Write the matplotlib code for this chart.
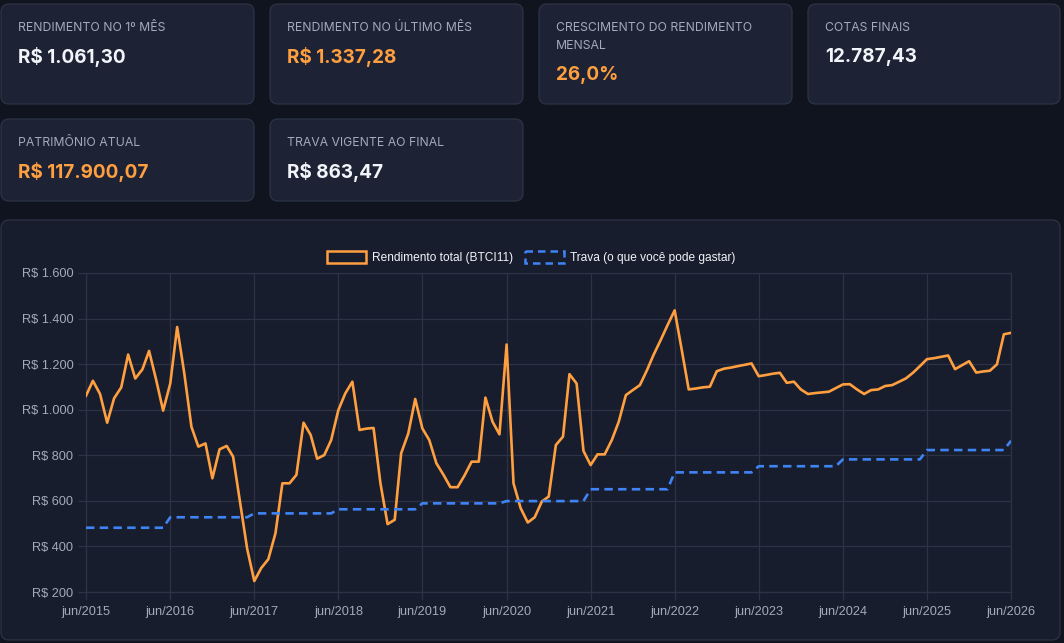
import matplotlib
matplotlib.use("Agg")

import matplotlib.pyplot as plt
import pandas as pd
from matplotlib.patches import FancyBboxPatch, Rectangle
from matplotlib.ticker import FuncFormatter

# ── Data ────────────────────────────────────────────────
START = "2015-06-01"

rendimento = [
    1061.30, 1127, 1069, 943, 1050, 1098, 1242, 1137, 1177, 1258, 1130, 996,
    1115, 1363, 1159, 925, 838, 852, 699, 826, 841, 794, 590, 390,
    248, 305, 344, 458, 677, 677, 714, 943, 889, 785, 801, 867,
    998, 1071, 1123, 911, 917, 920, 677, 498, 517, 809, 896, 1047,
    918, 867, 765, 714, 660, 660, 711, 772, 772, 1053, 947, 892,
    1286, 677, 568, 505, 528, 597, 619, 845, 882, 1156, 1115, 819,
    757, 804, 804, 867, 947, 1064, 1086, 1108, 1174, 1240, 1305, 1371,
    1436, 1267, 1089, 1093, 1098, 1101, 1169, 1180, 1185, 1191, 1197, 1203,
    1147, 1152, 1158, 1162, 1118, 1123, 1089, 1069, 1073, 1076, 1079, 1095,
    1111, 1112, 1089, 1069, 1086, 1089, 1104, 1108, 1123, 1137, 1162, 1191,
    1222, 1226, 1232, 1238, 1178, 1196, 1213, 1163, 1168, 1171, 1199, 1331,
    1337.28,
]

trava = [
    482, 482, 482, 482, 482, 482, 482, 482, 482, 482, 482, 482,
    528, 528, 528, 528, 528, 528, 528, 528, 528, 528, 528, 528,
    545, 545, 545, 545, 545, 545, 545, 545, 545, 545, 545, 545,
    563, 563, 563, 563, 563, 563, 563, 563, 563, 563, 563, 563,
    589, 589, 589, 589, 589, 589, 589, 589, 589, 589, 589, 589,
    599, 599, 599, 599, 599, 599, 599, 599, 599, 599, 599, 599,
    651, 651, 651, 651, 651, 651, 651, 651, 651, 651, 651, 651,
    725, 725, 725, 725, 725, 725, 725, 725, 725, 725, 725, 725,
    752, 752, 752, 752, 752, 752, 752, 752, 752, 752, 752, 752,
    782, 782, 782, 782, 782, 782, 782, 782, 782, 782, 782, 782,
    823, 823, 823, 823, 823, 823, 823, 823, 823, 823, 823, 823,
    863.47,
]

x_labels = ["jun/2015", "jun/2016", "jun/2017", "jun/2018", "jun/2019", "jun/2020",
            "jun/2021", "jun/2022", "jun/2023", "jun/2024", "jun/2025", "jun/2026"]
y_ticks = [200, 400, 600, 800, 1000, 1200, 1400, 1600]

card_labels = ["RENDIMENTO NO 1º MÊS", "RENDIMENTO NO ÚLTIMO MÊS",
               "CRESCIMENTO DO RENDIMENTO\nMENSAL", "COTAS FINAIS",
               "PATRIMÔNIO ATUAL", "TRAVA VIGENTE AO FINAL"]
card_values = ["R$ 1.061,30", "R$ 1.337,28", "26,0%", "12.787,43",
               "R$ 117.900,07", "R$ 863,47"]
card_highlight = [False, True, True, False, True, False]

# ── Style ───────────────────────────────────────────────
W, H = 1064, 643
BG = "#10141e"
PANEL = "#181d2d"
CARD = "#1d2335"
BORDER = "#2b3345"
GRID = "#2c3346"
ORANGE = "#ff9f40"
BLUE = "#3f84f5"
TEXT = "#f1f4f8"
MUTED = "#a3aab8"
CARD_FONT = ["Inter", "DejaVu Sans"]
CHART_FONT = ["Liberation Sans", "DejaVu Sans"]

fig = plt.figure(figsize=(W / 100, H / 100), dpi=100)
fig.patch.set_facecolor(BG)

# background layer in pixel coordinates
bg = fig.add_axes([0, 0, 1, 1], zorder=0)
bg.set_xlim(0, W)
bg.set_ylim(H, 0)
bg.axis("off")


def rounded_box(x0, y0, x1, y1, face, edge, r=8):
    box = FancyBboxPatch((x0 + r, y0 + r), (x1 - x0) - 2 * r, (y1 - y0) - 2 * r,
                         boxstyle=f"round,pad={r}", facecolor=face,
                         edgecolor=edge, linewidth=0.9)
    bg.add_patch(box)


# ── KPI cards ───────────────────────────────────────────
card_x = [(1, 254), (270, 523), (539, 792), (808, 1060)]
card_rows = [(4, 104), (119, 201)]

for i, (label, value) in enumerate(zip(card_labels, card_values)):
    row, col = divmod(i, 4)
    x0, x1 = card_x[col]
    y0, y1 = card_rows[row]
    rounded_box(x0, y0, x1, y1, CARD, BORDER)
    lines = label.split("\n")
    for k, line in enumerate(lines):
        bg.text(x0 + 17, y0 + 24 + 18 * k, line, fontsize=8.8, color=MUTED,
                family=CARD_FONT, va="center", ha="left")
    bg.text(x0 + 17, y0 + 53 + (len(lines) - 1) * 18, value, fontsize=13.6,
            fontweight="bold", color=ORANGE if card_highlight[i] else TEXT,
            family=CARD_FONT, va="center", ha="left")

# ── Chart panel ─────────────────────────────────────────
rounded_box(1, 220, 1060, 640, PANEL, BORDER)

# legend
bg.add_patch(Rectangle((326.5, 251), 39, 12, facecolor=PANEL, edgecolor=ORANGE, linewidth=1.8))
bg.text(372, 257.5, "Rendimento total (BTCI11)", fontsize=8.6, color=TEXT,
        family=CHART_FONT, va="center", ha="left")
bg.add_patch(Rectangle((524.5, 251), 39, 12, facecolor=PANEL, edgecolor=BLUE,
                       linewidth=1.8, linestyle=(0, (3, 2))))
bg.text(570, 257.5, "Trava (o que você pode gastar)", fontsize=8.6, color=TEXT,
        family=CHART_FONT, va="center", ha="left")

# ── Line chart ──────────────────────────────────────────
dates = pd.date_range(START, periods=len(rendimento), freq="MS")
ax = fig.add_axes([86 / W, 1 - 592 / H, 925 / W, 319 / H], zorder=1)
ax.set_facecolor("none")

ax.plot(dates, rendimento, color=ORANGE, linewidth=1.9, solid_joinstyle="round", zorder=3)
ax.plot(dates, trava, color=BLUE, linewidth=1.9, dashes=(3.2, 2.0), zorder=3)

ax.set_xlim(dates[0], dates[-1])
ax.set_ylim(200, 1600)
ax.set_yticks(y_ticks)
ax.yaxis.set_major_formatter(FuncFormatter(lambda v, _: f"R$ {v:,.0f}".replace(",", ".")))
tick_dates = [d for d in dates if d.month == 6]
ax.set_xticks(tick_dates)
ax.set_xticklabels(x_labels)

ax.grid(True, color=GRID, linewidth=0.9, zorder=0)
for spine in ax.spines.values():
    spine.set_color(GRID)
    spine.set_linewidth(0.9)
ax.tick_params(axis="both", colors=GRID, length=6, width=0.9, labelcolor=MUTED,
               labelsize=9.2, pad=3)
ax.tick_params(axis="x", pad=4)
for lbl in ax.get_xticklabels() + ax.get_yticklabels():
    lbl.set_family(CHART_FONT)

fig.savefig("out.png", dpi=100, facecolor=BG)
